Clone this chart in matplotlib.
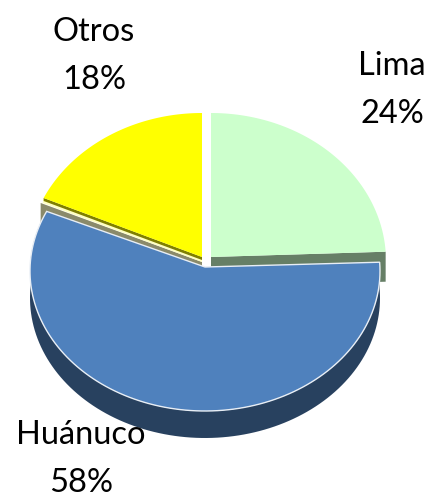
import numpy as np
import matplotlib
import matplotlib.pyplot as plt
from matplotlib.patches import Polygon

matplotlib.use('Agg')

labels = ['Lima', 'Huánuco', 'Otros']
shares = [24, 58, 18]

top_colors = ['#CCFFCC', '#4F81BD', '#FFFF00']
wall_colors = ['#667F66', '#28415F', '#7F7F00']

# slice tips in image pixels; the rim ellipse sits a bit lower than the tip (perspective)
tips = [(211, 257), (205, 267), (202, 257)]
radii_y = [148, 140, 148]
rx, lift, depth = 175, 4, 27


def rim(i, start, end, n=120):
    t = np.radians(np.linspace(start, end, n))
    cx, cy = tips[i]
    return np.column_stack([cx + rx * np.cos(t), cy + lift - radii_y[i] * np.sin(t)])


fig = plt.figure(figsize=(4.29, 5.01), dpi=100)
ax = fig.add_axes([0, 0, 1, 1])
ax.set_xlim(0, 429)
ax.set_ylim(501, 0)
ax.axis('off')

# slice angles, clockwise from twelve o'clock
edges = 90 - np.cumsum([0] + shares) * 3.6
lima, huanuco, otros = [(edges[i], edges[i + 1]) for i in range(3)]

# cut face of Lima, seen below the top
c = np.array(tips[0])
end = rim(0, lima[1], lima[1], 1)[0]
ax.add_patch(Polygon([c, end, end + [0, depth + 3], c + [0, depth + 3]], fc=wall_colors[0], ec='none'))

# cut faces of Otros and the back of Huánuco
c = np.array(tips[2])
end = rim(2, otros[0], otros[0], 1)[0]
ax.add_patch(Polygon([c + [0, 5], end + [-3, 5], end + [-3, 30], c + [0, 30]], fc='#8A8A6A', ec='none'))
ax.add_patch(Polygon([c, end, end + [-1, 5], c + [0, 5]], fc='#FFFFC0', ec='none'))
ax.add_patch(Polygon([c, end, end + [0, 3], c + [0, 3]], fc=wall_colors[2], ec='none'))

# outer wall of Huánuco
outer = rim(1, huanuco[0], huanuco[1])
ax.add_patch(Polygon(np.vstack([outer, (outer + [0, depth])[::-1]]), fc=wall_colors[1], ec='none'))

# top faces
ax.add_patch(Polygon(np.vstack([tips[0], rim(0, *lima)]), fc=top_colors[0], ec='none'))
ax.add_patch(Polygon(np.vstack([tips[2], rim(2, *otros)]), fc=top_colors[2], ec='none'))
ax.add_patch(Polygon(np.vstack([tips[1], outer]), fc=top_colors[1], ec='#E8EEF5', lw=1))

# data labels
pos = [(392, 66), (81, 435), (94, 32)]
for name, val, (x, y) in zip(labels, shares, pos):
    ax.text(x, y, name, ha='center', va='center', fontsize=23.5, family='Lato', color='black')
    ax.text(x, y + 48, f'{val}%', ha='center', va='center', fontsize=23.5, family='Lato', color='black')

fig.savefig('out.png', dpi=100)
